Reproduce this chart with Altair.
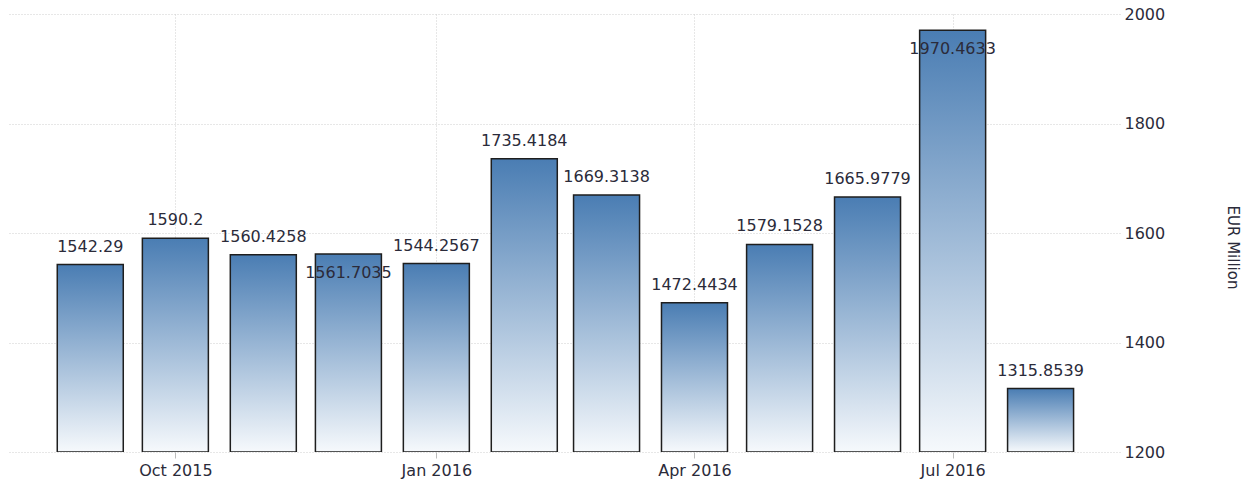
import altair as alt
import pandas as pd

months = ["2015-09-01", "2015-10-01", "2015-11-01", "2015-12-01", "2016-01-01", "2016-02-01",
          "2016-03-01", "2016-04-01", "2016-05-01", "2016-06-01", "2016-07-01", "2016-08-01"]
values = [1542.29, 1590.2, 1560.4258, 1561.7035, 1544.2567, 1735.4184,
          1669.3138, 1472.4434, 1579.1528, 1665.9779, 1970.4633, 1315.8539]
inside_labels = ["2015-12-01", "2016-07-01"]
y_ticks = [1200, 1400, 1600, 1800, 2000]

df = pd.DataFrame({"month": months, "value": values})
df["inside"] = df["month"].isin(inside_labels)

FONT = "DejaVu Sans"
TXT = "#2b2b3a"

x_ticks = [alt.DateTime(year=2015, month=10, date=1, utc=True),
           alt.DateTime(year=2016, month=1, date=1, utc=True),
           alt.DateTime(year=2016, month=4, date=1, utc=True),
           alt.DateTime(year=2016, month=7, date=1, utc=True)]

x = alt.X("month:T",
          scale=alt.Scale(type="utc", padding=0,
                          domain=[alt.DateTime(year=2015, month=8, date=3, utc=True),
                                  alt.DateTime(year=2016, month=8, date=29, utc=True)]),
          axis=alt.Axis(values=x_ticks, format="%b %Y", title=None, domain=False,
                        tickColor="#bbbbbb", tickSize=6, labelPadding=4,
                        labelFont=FONT, labelFontSize=16, labelColor=TXT,
                        grid=True, gridColor="#cfcfcf", gridDash=[1, 2]))
y = alt.Y("value:Q",
          scale=alt.Scale(domain=[1200, 2000], nice=False, zero=False),
          axis=alt.Axis(orient="right", values=y_ticks, format="d", title="EUR Million",
                        domain=False, ticks=False, labelPadding=4, labelFont=FONT,
                        labelFontSize=16, labelColor=TXT, titleFont=FONT, titleFontSize=15,
                        titleFontWeight="normal", titleColor=TXT, titlePadding=60,
                        titleY=233,
                        grid=True, gridColor="#cfcfcf", gridDash=[1, 2]))

gradient = alt.Gradient(gradient="linear",
                        stops=[alt.GradientStop(color="#4a7db3", offset=0),
                               alt.GradientStop(color="#f6f9fc", offset=1)],
                        x1=0, x2=0, y1=0, y2=1)

base = alt.Chart(df)
bars = base.mark_bar(size=66, color=gradient, stroke="#1e1e1e", strokeWidth=1.5, clip=True).encode(
    x=x, y=y, y2=alt.datum(1200))

lab_out = base.transform_filter("!datum.inside").mark_text(
    font=FONT, fontSize=16, color=TXT, baseline="alphabetic", dy=-13).encode(
    x="month:T", y="value:Q", text=alt.Text("value:Q", format=".4~f"))
lab_in = base.transform_filter("datum.inside").mark_text(
    font=FONT, fontSize=16, color=TXT, baseline="alphabetic", dy=24).encode(
    x="month:T", y="value:Q", text=alt.Text("value:Q", format=".4~f"))

chart = alt.layer(bars, lab_out, lab_in).properties(
    width=1112, height=438,
    autosize=alt.AutoSizeParams(type="none"),
    padding={"left": 8, "top": 14, "right": 132, "bottom": 36},
    background="white",
).configure_view(stroke=None)

chart.save("out.html", embed_options={"renderer": "svg", "actions": False})
